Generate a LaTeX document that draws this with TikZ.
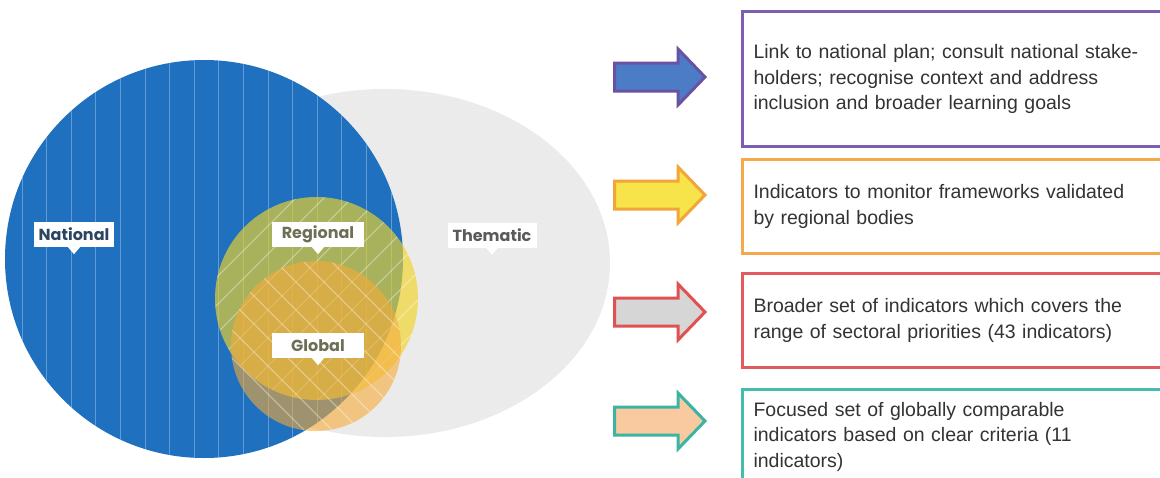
\documentclass[tikz,border=0pt]{standalone}
\usepackage{fontspec}
\setmainfont{Liberation Sans}
\newfontfamily\lblfont{Poppins}
\definecolor{natblue}{HTML}{1F70BF}
\definecolor{thgray}{HTML}{EBEBEB}
\definecolor{regyellow}{HTML}{F0D428}
\definecolor{globorange}{HTML}{F5AB3A}
\definecolor{natlbl}{HTML}{2B4560}
\definecolor{reglbl}{HTML}{6E6E55}
\definecolor{thlbl}{HTML}{5A5A5A}
\definecolor{bpurple}{HTML}{7D5FB0}
\definecolor{borange}{HTML}{F5A94A}
\definecolor{bred}{HTML}{E05A5F}
\definecolor{bteal}{HTML}{45BCAE}
\definecolor{ablue}{HTML}{4C7CC6}
\definecolor{apurple}{HTML}{6A52A3}
\definecolor{ayellow}{HTML}{F7E34A}
\definecolor{aorange}{HTML}{F2A53A}
\definecolor{agray}{HTML}{D6D6D6}
\definecolor{ared}{HTML}{E05252}
\definecolor{apeach}{HTML}{F9C9A0}
\definecolor{ateal}{HTML}{3CB4A4}
\definecolor{txt}{HTML}{333333}
\newcommand\myarrow[3]{\draw[line width=3pt, line join=miter, fill=#2, draw=#3]
  (614.5,#1-14) -- (678,#1-14) -- (678,#1-28) -- (705,#1) -- (678,#1+28) -- (678,#1+14) -- (614.5,#1+14) -- cycle;}
\newcommand\pointer[1]{\fill[white] ([xshift=-6pt]#1.south) -- ([yshift=-7pt]#1.south) -- ([xshift=6pt]#1.south) -- cycle;}
\tikzset{
  lbl/.style={fill=white, font=\lblfont\bfseries\fontsize{16}{18}\selectfont, minimum height=25pt, inner xsep=5pt, inner ysep=0pt},
  tbox/.style={draw=#1, line width=3pt, fill=white, anchor=north west, minimum width=440pt,
     text width=418pt, inner xsep=11pt, align=left, text=txt, font=\fontsize{19.5}{25.5}\selectfont},
  hatch/.style={white, opacity=0.45, line width=0.9pt}
}
\begin{document}
\begin{tikzpicture}[x=1pt,y=-1pt]
\clip (0,0) rectangle (1160,477);
\fill[white] (0,0) rectangle (1160,477);
% thematic
\begin{scope}
\clip (385,263) ellipse [x radius=225pt, y radius=174pt];
\fill[thgray] (150,80) rectangle (620,445);
\foreach \y in {95,110,...,440} \draw[white, opacity=0.15, line width=1pt] (150,\y) -- (620,\y);
\end{scope}
% national
\begin{scope}
\clip (204,259) circle [radius=199pt];
\fill[natblue] (0,50) rectangle (410,470);
\foreach \x in {22,46.6,...,400} \draw[white, opacity=0.3, line width=0.8pt] (\x,50) -- (\x,470);
\end{scope}
% regional
\fill[regyellow, opacity=0.66] (316.5,298.5) circle [radius=101.5pt];
\begin{scope}
\clip (316.5,298.5) circle [radius=101.5pt];
\foreach \x in {0,28,...,430} \draw[hatch] (\x,410) -- (\x+240,170);
\end{scope}
% global
\fill[globorange, opacity=0.6] (316,346) circle [radius=85pt];
\begin{scope}
\clip (316,346) circle [radius=85pt];
\foreach \x in {40,68,...,420} \draw[hatch] (\x,250) -- (\x+200,450);
\end{scope}
% labels
\node[lbl, text=natlbl] (nat) at (74,234.5) {National};
\pointer{nat}
\node[lbl, text=reglbl, minimum width=92pt] (reg) at (318,234.5) {Regional};
\pointer{reg}
\node[lbl, text=reglbl, minimum width=92pt] (glob) at (318,345.5) {Global};
\pointer{glob}
\node[lbl, text=thlbl, minimum width=89pt] (them) at (492,235) {Thematic};
\pointer{them}
% arrows
\myarrow{77}{ablue}{apurple}
\myarrow{195}{ayellow}{aorange}
\myarrow{312}{agray}{ared}
\myarrow{421}{apeach}{ateal}
% boxes
\node[tbox=bpurple, minimum height=135pt] (b1) at (741,10) {Link to national plan; consult national stake-\\holders; recognise context and address\\inclusion and broader learning goals};
\node[tbox=borange, minimum height=94pt] (b2) at (741,158) {Indicators to monitor frameworks validated\\by regional bodies};
\node[tbox=bred, minimum height=94pt] (b3) at (741,272) {Broader set of indicators which covers the\\range of sectoral priorities (43 indicators)};
\node[tbox=bteal, minimum height=94pt] (b4) at (741,388) {Focused set of globally comparable\\indicators based on clear criteria (11\\indicators)};
\end{tikzpicture}
\end{document}
